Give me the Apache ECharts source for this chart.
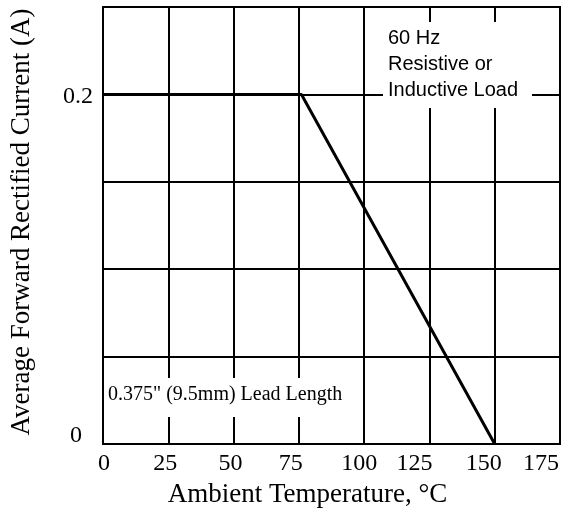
<!DOCTYPE html>
<html>
<head>
<meta charset="utf-8">
<script src="https://cdn.jsdelivr.net/npm/echarts@6/dist/echarts.min.js"></script>
<style>
html,body{margin:0;padding:0;background:#fff;}
#chart{width:562px;height:513px;}
</style>
</head>
<body>
<div id="chart"></div>
<script>
// ---- data ----
var temperatures = [0, 76, 150];          // Ambient temperature, °C
var currents = [0.2, 0.2, 0];             // Average forward rectified current, A
var xTickLabels = [0, 25, 50, 75, 100, 125, 150, 175];
var yTickLabels = [0, 0.2];
var xTitle = 'Ambient Temperature, °C';
var yTitle = 'Average Forward Rectified Current (A)';
var noteLoad = '60 Hz\nResistive or\nInductive Load';
var noteLead = '0.375" (9.5mm) Lead Length';

// ---- styling helpers ----
var serif = 'Liberation Serif, Times New Roman, serif';
var sans = 'Liberation Sans, Arial, sans-serif';
// horizontal nudges (px) of x tick labels, as in the reference
var xNudge = {0: 1, 25: -3, 50: -3, 75: -8, 100: -5, 125: -15, 150: -11, 175: -19};
var xRich = {};
xTickLabels.forEach(function (v) {
  var d = xNudge[v] || 0;
  xRich['t' + v] = {
    fontFamily: serif, fontSize: 24, color: '#000',
    padding: d < 0 ? [0, -2 * d, 0, 0] : [0, 0, 0, 2 * d]
  };
});
var yRich = {
  y0: {fontFamily: serif, fontSize: 24, color: '#000', padding: [0, 11, 16, 0]},
  y1: {fontFamily: serif, fontSize: 24, color: '#000', padding: [5, 0, 0, 0]}
};

var chart = echarts.init(document.getElementById('chart'), null, {renderer: 'canvas'});
var data = temperatures.map(function (t, i) { return [t, currents[i]]; });

chart.setOption({
  animation: false,
  backgroundColor: '#fff',
  grid: {
    left: 100, right: 2, top: 7, bottom: 67,
    show: true, borderColor: '#000', borderWidth: 2, backgroundColor: 'transparent'
  },
  xAxis: {
    type: 'value', min: 0, max: 175, interval: 25,
    name: xTitle, nameLocation: 'middle', nameGap: 37,
    nameTextStyle: {fontFamily: serif, fontSize: 27, color: '#000', padding: [0, 48, 0, 0]},
    axisLine: {show: true, lineStyle: {color: '#000', width: 2}},
    axisTick: {show: false},
    axisLabel: {
      margin: 8,
      formatter: function (v) {
        var r = Math.round(v);
        if (xTickLabels.indexOf(r) < 0) return '';
        return '{t' + r + '|' + r + '}';
      },
      rich: xRich
    },
    splitLine: {show: true, lineStyle: {color: '#000', width: 2}}
  },
  yAxis: {
    type: 'value', min: 0, max: 0.25, interval: 0.05,
    name: yTitle, nameLocation: 'middle', nameGap: 68, nameRotate: 90,
    nameTextStyle: {fontFamily: serif, fontSize: 27, color: '#000', padding: [0, 0, 0, 7]},
    axisLine: {show: true, lineStyle: {color: '#000', width: 2}},
    axisTick: {show: false},
    axisLabel: {
      margin: 10,
      formatter: function (v) {
        for (var i = 0; i < yTickLabels.length; i++) {
          if (Math.abs(v - yTickLabels[i]) < 1e-9) return '{y' + i + '|' + String(yTickLabels[i]) + '}';
        }
        return '';
      },
      rich: yRich
    },
    splitLine: {show: true, lineStyle: {color: '#000', width: 2}}
  },
  series: [{
    type: 'line',
    data: data,
    showSymbol: false,
    symbol: 'none',
    lineStyle: {color: '#000', width: 3},
    z: 5
  }],
  graphic: [
    {type: 'rect', shape: {x: 383, y: 22, width: 149, height: 86}, style: {fill: '#fff'}, z: 10},
    {type: 'text', x: 388, y: 25, style: {text: noteLoad, font: '20px ' + sans, fill: '#000', lineHeight: 26, textVerticalAlign: 'top'}, z: 11},
    {type: 'rect', shape: {x: 104, y: 378, width: 248, height: 39}, style: {fill: '#fff'}, z: 10},
    {type: 'text', x: 108, y: 395, style: {text: noteLead, font: '20px ' + serif, fill: '#000', textVerticalAlign: 'middle'}, z: 11}
  ]
});
</script>
</body>
</html>
